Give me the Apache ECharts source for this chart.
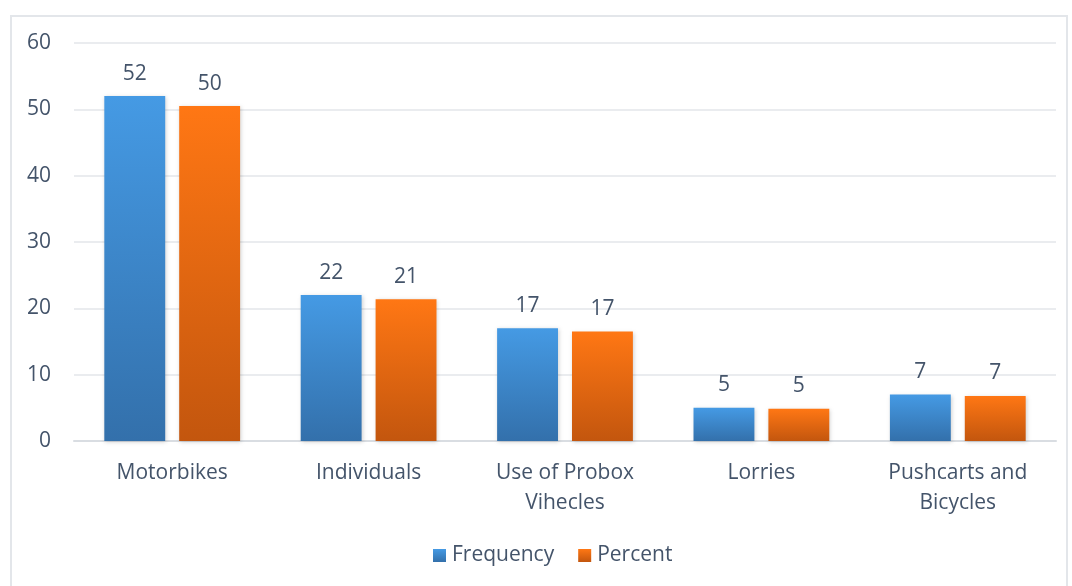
<!DOCTYPE html>
<html>
<head>
<meta charset="utf-8">
<script src="https://cdn.jsdelivr.net/npm/echarts@6/dist/echarts.min.js"></script>
<style>
  html, body { margin: 0; padding: 0; background: #fff; }
  #frame { position: absolute; left: 10px; top: 15px; width: 1058px; height: 580px; border: 2px solid #e3e6ea; box-sizing: border-box; }
  #chart { width: 1072px; height: 586px; }
</style>
</head>
<body>
<div id="frame"></div>
<div id="chart"></div>
<script>
// Means of transport used, frequency and percent of respondents
const categories = ['Motorbikes', 'Individuals', 'Use of Probox\nVihecles', 'Lorries', 'Pushcarts and\nBicycles'];
const frequency = [52, 22, 17, 5, 7];
const percent = [50.49, 21.36, 16.50, 4.85, 6.80];
const yTicks = { min: 0, max: 60, interval: 10 };

const textColor = '#44546a';
const font = '"Open Sans", "Noto Sans", sans-serif';
const fs = 21;

function grad(top, bottom) {
  return new echarts.graphic.LinearGradient(0, 0, 0, 1, [
    { offset: 0, color: top },
    { offset: 1, color: bottom }
  ]);
}

const chart = echarts.init(document.getElementById('chart'), null, { renderer: 'canvas' });

const barStyle = (top, bottom) => ({
  color: grad(top, bottom),
  shadowColor: 'rgba(0,0,0,0.18)',
  shadowBlur: 4,
  shadowOffsetX: 1,
  shadowOffsetY: 1
});

const labelCfg = {
  show: true,
  position: 'top',
  distance: 12,
  color: textColor,
  fontFamily: font,
  fontSize: fs,
  formatter: p => Number(p.value).toFixed(0)
};

chart.setOption({
  animation: false,
  textStyle: { fontFamily: font },
  grid: { left: 74, right: 16, top: 43, bottom: 145, containLabel: false },
  legend: {
    bottom: 15,
    left: 428,
    itemWidth: 13,
    itemHeight: 13,
    itemGap: 24,
    icon: 'rect',
    textStyle: { color: textColor, fontSize: fs, fontFamily: font, padding: [0, 0, 0, 1] },
    data: ['Frequency', 'Percent']
  },
  xAxis: {
    type: 'category',
    data: categories,
    axisLine: { show: true, lineStyle: { color: '#d9dde2', width: 2 } },
    axisTick: { show: false },
    axisLabel: { color: textColor, fontSize: fs, fontFamily: font, margin: 17, lineHeight: 30, interval: 0 }
  },
  yAxis: {
    type: 'value',
    min: yTicks.min,
    max: yTicks.max,
    interval: yTicks.interval,
    axisLine: { show: false },
    axisTick: { show: false },
    axisLabel: { color: textColor, fontSize: fs, fontFamily: font, margin: 23 },
    splitLine: { lineStyle: { color: '#e3e6ea', width: 1.5 } }
  },
  series: [
    {
      name: 'Frequency',
      type: 'bar',
      data: frequency,
      barWidth: '31%',
      barGap: '23%',
      itemStyle: barStyle('#459ae4', '#3370ab'),
      label: labelCfg
    },
    {
      name: 'Percent',
      type: 'bar',
      data: percent,
      barWidth: '31%',
      itemStyle: barStyle('#ff7714', '#c3560e'),
      label: labelCfg
    }
  ]
});
</script>
</body>
</html>
